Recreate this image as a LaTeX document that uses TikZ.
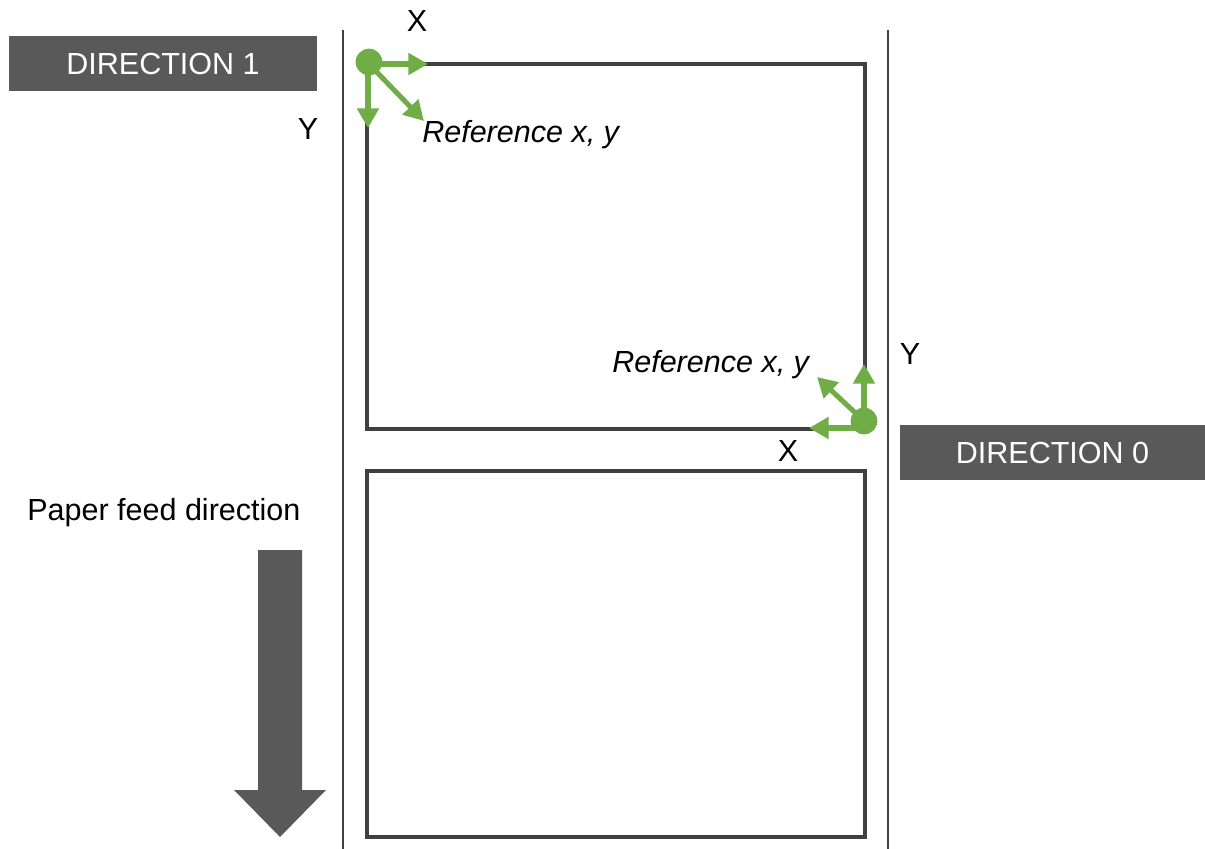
\documentclass[tikz,border=0pt]{standalone}
\usepackage{fontspec}
\setmainfont{Liberation Sans}
\usepackage{xcolor}
\usetikzlibrary{arrows.meta,positioning}
\definecolor{refgreen}{RGB}{112,173,71}
\definecolor{tagfill}{RGB}{89,89,89}
\definecolor{edgecol}{RGB}{64,64,64}

\tikzset{
  lbl/.style={inner sep=0pt, font=\fontsize{21.7}{26}\selectfont},
  dirtag/.style={fill=tagfill, text=white, inner sep=0pt, minimum height=1.375cm,
    font=\fontsize{21.7}{26}\selectfont},
  refdot/.style={circle, fill=refgreen, inner sep=0pt, minimum size=19pt},
  refarrow/.style={refgreen, line width=3.6pt, -{Triangle[length=14pt,width=15pt]}},
}

\begin{document}
\begin{tikzpicture}[x=0.025cm, y=-0.025cm]
  \useasboundingbox (0,0) rectangle (1205,849);

  % paper edges
  \draw[edgecol, line width=1.4pt] (343,30) -- (343,849);
  \draw[edgecol, line width=1.4pt] (888,30) -- (888,849);

  % labels on the paper
  \draw[edgecol, line width=2.3pt] (367,64) rectangle (865,429);
  \draw[edgecol, line width=2.3pt] (367,471) rectangle (865,837);

  % direction tags
  \node[dirtag, minimum width=7.7cm] (dir1) at (163,63.5) {DIRECTION 1};
  \node[dirtag, minimum width=7.625cm] (dir0) at (1052.5,452.5) {DIRECTION 0};

  % reference point, direction 1
  \coordinate (x1) at (428,64);
  \coordinate (y1) at (368,128);
  \coordinate (r1) at (424,121);
  \draw[refarrow] (369,64) -- (x1);
  \draw[refarrow] (368,64) -- (y1);
  \draw[refarrow] (369,64) -- (r1);
  \node[refdot] (o1) at (369,62) {};
  \node[lbl] (xa) at (417,21) {X};
  \node[lbl] (ya) at (308,129) {Y};
  \node[lbl, anchor=base west] (ref1) at (422,142) {\itshape Reference x, y};

  % reference point, direction 0
  \coordinate (x0) at (809,428);
  \coordinate (y0) at (864,364);
  \coordinate (r0) at (817,377);
  \draw[refarrow] (864,428) -- (x0);
  \draw[refarrow] (864,421) -- (y0);
  \draw[refarrow] (864,421) -- (r0);
  \node[refdot] (o0) at (864,421) {};
  \node[lbl] (yb) at (910,354) {Y};
  \node[lbl] (xb) at (788,451) {X};
  \node[lbl, anchor=base west] (ref0) at (612,372) {\itshape Reference x, y};

  % feed direction
  \node[lbl, anchor=base west] (feed) at (27,520) {Paper feed direction};
  \fill[tagfill] (258,550) -- (302,550) -- (302,790) -- (326,790) -- (280,837)
    -- (234,790) -- (258,790) -- cycle;
\end{tikzpicture}
\end{document}
